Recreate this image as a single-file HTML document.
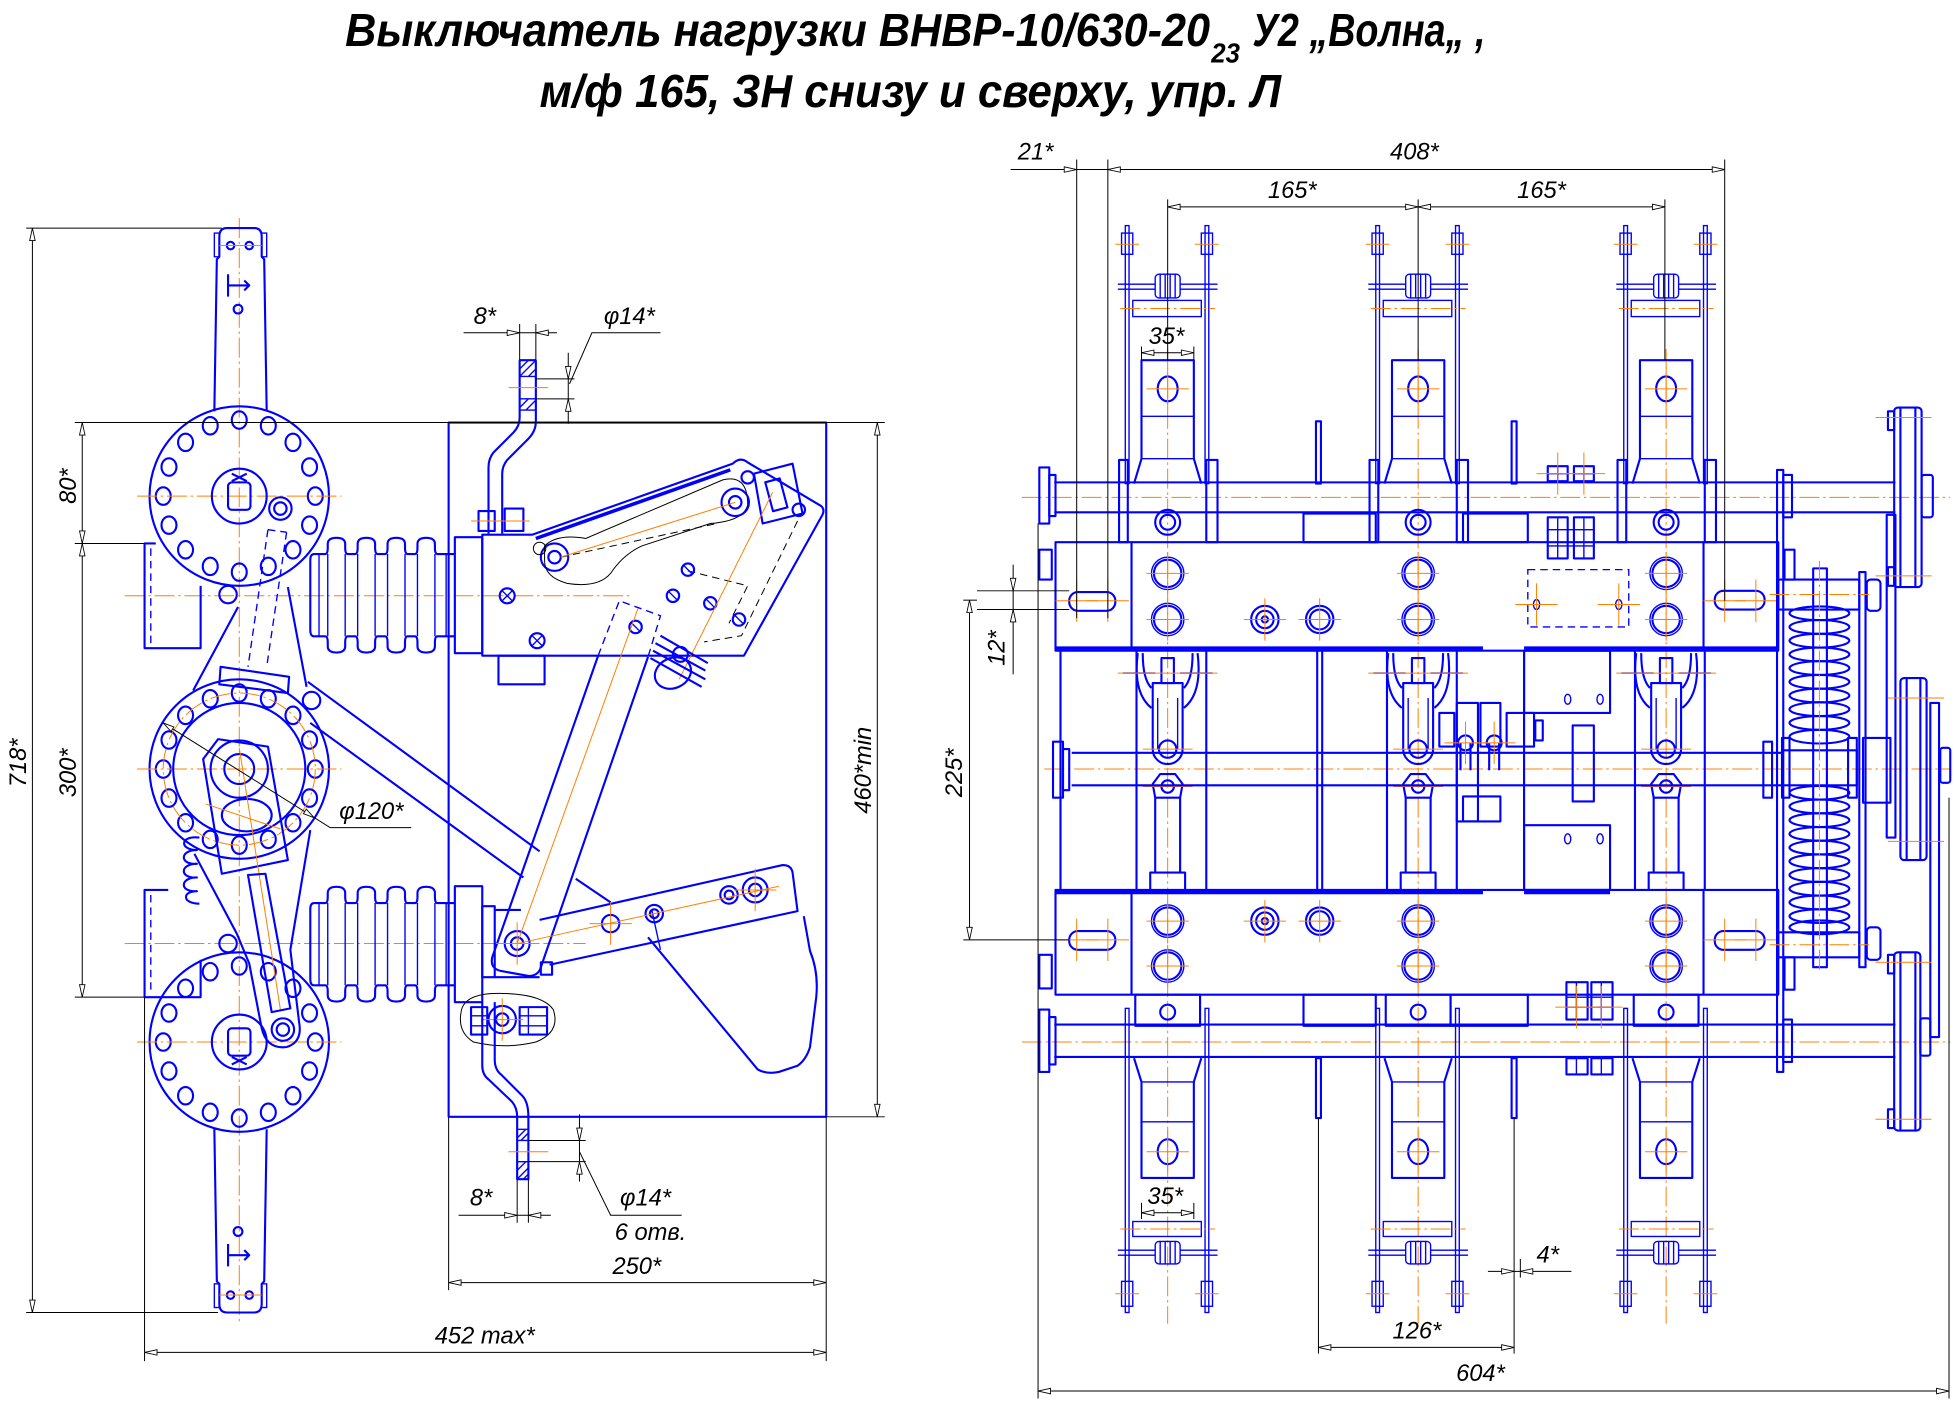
<!DOCTYPE html>
<html><head><meta charset="utf-8">
<style>
html,body{margin:0;padding:0;background:#fff;overflow:hidden}
svg{display:block}
.b{fill:none;stroke:#0000ff;stroke-width:1.7;stroke-linejoin:round}
.bt{fill:none;stroke:#0000ff;stroke-width:1.1}
.bk{fill:none;stroke:#0000ff;stroke-width:2.8}
.bd{fill:none;stroke:#0000ff;stroke-width:1.1;stroke-dasharray:6 4}
.o{fill:none;stroke:#ff8000;stroke-width:0.8;stroke-dasharray:16 3 2 3}
.os{fill:none;stroke:#ff8000;stroke-width:0.8}
.k{fill:none;stroke:#000;stroke-width:0.8}
.kd{fill:none;stroke:#000;stroke-width:0.8;stroke-dasharray:6 4}
.ka{fill:#fff;stroke:#000;stroke-width:0.7}
.t{font-family:"Liberation Sans",sans-serif;font-style:italic;font-size:19px;fill:#000}
.h{font-family:"Liberation Sans","Noto Sans CJK SC",sans-serif;font-style:italic;font-weight:bold;fill:#000}
</style></head><body>
<svg width="1954" height="1401" viewBox="0 0 1568 1124" preserveAspectRatio="none" xmlns="http://www.w3.org/2000/svg" xmlns:xlink="http://www.w3.org/1999/xlink">
<defs>
<g id="cr"><line class="os" x1="-17" y1="0" x2="17" y2="0"/><line class="os" x1="0" y1="-17" x2="0" y2="17"/></g>
<g id="h16" class="b">
<ellipse cx="0" cy="-61" rx="6" ry="7"/><ellipse cx="23.3" cy="-56.4" rx="6" ry="7"/><ellipse cx="43.1" cy="-43.1" rx="6" ry="7"/><ellipse cx="56.4" cy="-23.3" rx="6" ry="7"/>
<ellipse cx="61" cy="0" rx="6" ry="7"/><ellipse cx="56.4" cy="23.3" rx="6" ry="7"/><ellipse cx="43.1" cy="43.1" rx="6" ry="7"/><ellipse cx="23.3" cy="56.4" rx="6" ry="7"/>
<ellipse cx="0" cy="61" rx="6" ry="7"/><ellipse cx="-23.3" cy="56.4" rx="6" ry="7"/><ellipse cx="-43.1" cy="43.1" rx="6" ry="7"/><ellipse cx="-56.4" cy="23.3" rx="6" ry="7"/>
<ellipse cx="-61" cy="0" rx="6" ry="7"/><ellipse cx="-56.4" cy="-23.3" rx="6" ry="7"/><ellipse cx="-43.1" cy="-43.1" rx="6" ry="7"/><ellipse cx="-23.3" cy="-56.4" rx="6" ry="7"/>
</g>
<g id="disk">
<circle class="b" r="72"/>
<use xlink:href="#h16"/>
<line class="o" x1="-82" y1="0" x2="82" y2="0"/>
</g>
<g id="hub">
<circle class="b" r="22"/>
<rect class="b" x="-9" y="-11" width="18" height="22" rx="3"/>
<path class="b" d="M-6,-18 L6,-12 M6,-18 L-6,-12"/>
</g>
<g id="bel">
<path class="b" d="M252,-33 L261,-33 Q263,-33 263,-38 L263,-41 Q263,-46 270,-46 Q277,-46 277,-41 L277,-38 Q277,-33 279,-33 L285,-33 Q287,-33 287,-38 L287,-41 Q287,-46 294,-46 Q301,-46 301,-41 L301,-38 Q301,-33 303,-33 L309,-33 Q311,-33 311,-38 L311,-41 Q311,-46 318,-46 Q325,-46 325,-41 L325,-38 Q325,-33 327,-33 L333,-33 Q335,-33 335,-38 L335,-41 Q335,-46 342,-46 Q349,-46 349,-41 L349,-38 Q349,-33 351,-33 L365,-33"/>
<path class="b" d="M252,33 L261,33 Q263,33 263,38 L263,41 Q263,46 270,46 Q277,46 277,41 L277,38 Q277,33 279,33 L285,33 Q287,33 287,38 L287,41 Q287,46 294,46 Q301,46 301,41 L301,38 Q301,33 303,33 L309,33 Q311,33 311,38 L311,41 Q311,46 318,46 Q325,46 325,41 L325,38 Q325,33 327,33 L333,33 Q335,33 335,38 L335,41 Q335,46 342,46 Q349,46 349,41 L349,38 Q349,33 351,33 L365,33"/>
<path class="b" d="M252,-33 Q249,-33 249,-28 L249,28 Q249,33 252,33"/>
<path class="bt" d="M256,-33V33 M263,-33V33 M277,-33V33 M287,-33V33 M301,-33V33 M311,-33V33 M325,-33V33 M335,-33V33 M349,-33V33 M358,-33V33"/>
</g>
<g id="arm">
<path class="b" d="M172,330 L174,208 L176,206 L176,190 Q176,183 182,183 L204,183 Q210,183 210,190 L210,206 L212,208 L214,330"/>
<rect class="bt" x="172" y="187" width="4" height="19"/>
<rect class="bt" x="210" y="187" width="4" height="19"/>
<circle class="b" cx="185" cy="197" r="3"/><circle class="b" cx="200" cy="197" r="3"/>
<path class="b" d="M183,220 L183,238 M183,229 L200,229 M196,225 L200,229 L196,233"/>
<circle class="b" cx="191" cy="248" r="3.5"/>
<line class="os" x1="176" y1="197" x2="210" y2="197"/>
</g>
<g id="coil"><ellipse class="b" cx="0" cy="0" rx="24" ry="5.5"/></g>
<g id="ph">
<line class="o" x1="0" y1="280" x2="0" y2="1062"/>
<g class="bt">
<rect x="-34" y="181" width="3" height="207"/>
<rect x="30" y="181" width="3" height="207"/>
<rect x="-37" y="187" width="9" height="17"/>
<rect x="27" y="187" width="9" height="17"/>
<path d="M-40,228 L-10,228 M-40,232 L-10,232 M10,228 L40,228 M10,232 L40,232"/>
<rect x="-10" y="220" width="20" height="19" rx="3"/>
<path d="M-6,220 V239 M-2,220 V239 M2,220 V239 M6,220 V239"/>
<rect x="-28" y="241" width="55" height="13"/>
</g>
<line class="os" x1="-42" y1="196" x2="-23" y2="196"/><line class="os" x1="22" y1="196" x2="41" y2="196"/>
<line class="o" x1="-38" y1="247.5" x2="38" y2="247.5"/>
<g class="b">
<path d="M-27,388 L-21,368 L-21,289 L21,289 L21,368 L27,388"/>
<ellipse cx="0" cy="312" rx="8" ry="10"/>
<rect x="-39" y="369" width="7" height="66"/>
<rect x="31" y="369" width="9" height="66"/>
<circle cx="0" cy="419" r="10"/><circle cx="0" cy="419" r="6"/>
<circle cx="0" cy="460" r="11"/><circle cx="0" cy="497" r="11"/>
</g>
<g class="bt">
<line x1="-21" y1="334" x2="21" y2="334"/><line x1="-21" y1="368" x2="21" y2="368"/>
<circle cx="0" cy="460" r="13"/><circle cx="0" cy="497" r="13"/>
</g>
<use xlink:href="#cr" y="312"/><use xlink:href="#cr" y="460"/><use xlink:href="#cr" y="497"/>
<g class="b">
<line x1="-25" y1="522" x2="-25" y2="714"/>
<line x1="31" y1="522" x2="31" y2="714"/>
<path d="M-24,524 Q-28,556 -13,568 M24,524 Q28,556 13,568 M-20,524 Q-20,545 -13,552 M20,524 Q20,545 13,552"/>
<rect x="-5" y="528" width="10" height="20"/>
<path d="M-12,548 L-12,601 A12,12 0 0 0 12,601 L12,548 Z"/>
<circle cx="0" cy="601" r="7"/>
<path d="M-10,640 L-12,629 L-6,621 L6,621 L12,629 L10,640 Z"/>
<circle cx="0" cy="631" r="5"/>
<path d="M-10,640 V700 M10,640 V700 M-14,714 V700 H14 V714"/>
<circle cx="0" cy="739" r="11"/><circle cx="0" cy="775" r="11"/>
<rect x="-26" y="798" width="52" height="25"/>
<circle cx="0" cy="812" r="6"/>
<path d="M-27,849 L-21,868 L-21,945 L21,945 L21,868 L27,849"/>
<ellipse cx="0" cy="924" rx="8" ry="10"/>
</g>
<g class="bt">
<path d="M-8,560 V601 M8,560 V601"/>
<line x1="-36" y1="540" x2="-10" y2="540"/><line x1="10" y1="540" x2="36" y2="540"/>
<circle cx="0" cy="739" r="13"/><circle cx="0" cy="775" r="13"/>
<rect x="-34" y="809" width="3" height="244"/>
<rect x="30" y="809" width="3" height="244"/>
<line x1="-21" y1="868" x2="21" y2="868"/><line x1="-21" y1="900" x2="21" y2="900"/>
<rect x="-28" y="980" width="55" height="12"/>
<rect x="-10" y="996" width="20" height="18" rx="3"/>
<path d="M-40,1003 L-10,1003 M-40,1007 L-10,1007 M10,1003 L40,1003 M10,1007 L40,1007 M-6,996 V1014 M-2,996 V1014 M2,996 V1014 M6,996 V1014"/>
<rect x="-37" y="1028" width="9" height="20"/>
<rect x="27" y="1028" width="9" height="20"/>
</g>
<line class="os" x1="-40" y1="540" x2="40" y2="540"/>
<line class="os" x1="-20" y1="601" x2="20" y2="601"/>
<line class="os" x1="-20" y1="631" x2="20" y2="631"/>
<use xlink:href="#cr" y="739"/><use xlink:href="#cr" y="775"/><use xlink:href="#cr" y="924"/>
<line class="o" x1="-38" y1="986" x2="38" y2="986"/>
<line class="os" x1="-42" y1="1038" x2="-23" y2="1038"/><line class="os" x1="22" y1="1038" x2="41" y2="1038"/>
</g>
</defs>

<!-- ================= TITLE ================= -->
<text class="h" x="277" y="37" font-size="37" textLength="694" lengthAdjust="spacingAndGlyphs">Выключатель нагрузки ВНВР-10/630-20</text>
<text class="h" x="972" y="50" font-size="22" textLength="23" lengthAdjust="spacingAndGlyphs">23</text>
<text class="h" x="1005" y="37" font-size="37" textLength="187" lengthAdjust="spacingAndGlyphs">У2 „Волна„ ,</text>
<text class="h" x="433" y="86" font-size="37" textLength="595" lengthAdjust="spacingAndGlyphs">м/ф 165, ЗН снизу и сверху, упр. Л</text>

<!-- ================= LEFT VIEW ================= -->
<!-- centerlines -->
<line class="o" x1="192" y1="175" x2="192" y2="1062"/>
<line class="o" x1="100" y1="478" x2="505" y2="478"/>
<line class="o" x1="100" y1="757" x2="470" y2="757"/>

<!-- panel -->
<rect class="b" x="360" y="339" width="303" height="557"/>
<!-- housings -->
<path class="b" d="M125,436 L116,436 L116,520 L161,520 L161,470"/>
<path class="b" d="M161,770 L161,800 L116,800 L116,714 L135,714"/>
<line class="bd" x1="121" y1="440" x2="121" y2="518"/>
<line class="bd" x1="121" y1="718" x2="121" y2="798"/>

<!-- arms -->
<use xlink:href="#arm"/>
<use xlink:href="#arm" transform="translate(0,1236) scale(1,-1)"/>

<!-- disks -->
<use xlink:href="#disk" x="192" y="398"/>
<use xlink:href="#disk" x="192" y="617"/>
<use xlink:href="#disk" x="192" y="836"/>
<use xlink:href="#hub" x="192" y="398"/>
<use xlink:href="#hub" transform="translate(192,836) scale(1,-1)"/>
<circle class="b" cx="192" cy="617" r="53"/>
<circle class="o" cx="192" cy="617" r="61"/>
<!-- crank pins -->
<circle class="b" cx="225" cy="408" r="9"/><circle class="b" cx="225" cy="408" r="5"/>
<circle class="b" cx="227" cy="826" r="9"/><circle class="b" cx="227" cy="826" r="5"/>
<circle class="b" cx="183" cy="477" r="7"/>
<circle class="b" cx="183" cy="757" r="7"/>
<!-- dashed link -->
<path class="bd" d="M215,425 L199,535 M230,427 L214,535 M215,425 L230,427"/>
<!-- upper lever -->
<path class="b" d="M191,487 L155,554 M231,471 L246,551"/>
<polygon class="b" points="177,535 232,543 231,556 176,549"/>
<!-- middle lever plate -->
<polygon class="b" points="163,609 175,593 215,599 231,690 178,701"/>
<ellipse class="b" cx="198" cy="654" rx="20" ry="13"/>
<circle class="b" cx="192" cy="617" r="23"/>
<circle class="b" cx="192" cy="617" r="12" stroke-width="2.6"/>
<line class="os" x1="165" y1="645" x2="225" y2="665"/>
<line class="os" x1="192" y1="600" x2="225" y2="810"/>
<!-- lower link -->
<polygon class="b" points="199,702 213,701 233,809 218,812"/>
<!-- lower lever -->
<path class="b" d="M156,685 L190,749 L200,773 L210,825 Q214,842 230,840 Q243,836 240,820 L233,762 L249,666"/>
<!-- gear teeth -->
<path class="b" d="M160,672 c-16,-2 -16,10 -2,10 c-14,0 -14,12 0,11 c-14,0 -14,12 0,11 c-14,0 -14,12 0,11 c-12,0 -12,10 2,10"/>
<!-- diagonal bar -->
<path class="b" d="M247,547 L433,683 M249,580 L420,704 M462,705 L490,724"/>
<circle class="b" cx="250" cy="562" r="7"/>

<!-- bellows & flanges -->
<use xlink:href="#bel" y="477.5"/>
<use xlink:href="#bel" y="757.5"/>
<rect class="b" x="365" y="431" width="22" height="93"/>
<rect class="b" x="365" y="711" width="22" height="93"/>

<!-- top strap -->
<path class="b" d="M417,289 L430,289 M417,289 L417,335 Q417,342 412,347 L396,363 Q392,368 392,375 L392,428 M430,289 L430,338 Q430,346 424,352 L407,369 Q403,374 403,380 L403,428"/>
<path class="bt" d="M417,289 H430 V302 H417 Z M417,296 L424,289 M417,302 L430,289 M424,302 L430,296 M417,320 H430 V329 H417 Z M417,327 L424,320 M422,329 L430,321"/>
<line class="os" x1="408" y1="311" x2="440" y2="311"/>
<rect class="b" x="384" y="410" width="13" height="16"/>
<rect class="b" x="405" y="408" width="15" height="18"/>
<line class="os" x1="378" y1="418" x2="425" y2="418"/>

<!-- top block + upper arm -->
<path class="b" d="M387,429 L427,429 L588,372 Q594,366 600,371 L659,406 Q662,409 660,413 L597,526 L387,526 Z"/>
<line class="bk" x1="430" y1="432" x2="586" y2="377"/>
<rect class="b" x="400" y="526" width="37" height="23"/>
<circle class="b" cx="407" cy="478" r="6"/><path class="bt" d="M403,474 L411,482 M411,474 L403,482"/>
<circle class="b" cx="431" cy="514" r="6"/><path class="bt" d="M427,510 L435,518 M435,510 L427,518"/>
<circle class="b" cx="445" cy="447" r="11"/><circle class="b" cx="445" cy="447" r="5"/>
<circle class="k" cx="433" cy="440" r="5"/>
<path class="k" d="M437,438 Q447,428 470,432 L580,385 Q600,380 600,405 Q597,418 570,420 L515,438 Q500,445 490,460 Q480,472 455,468 Q437,463 437,450 Z"/>
<path class="kd" d="M450,447 L575,420 M640,418 L595,510 L565,515 M552,458 L600,470 L585,500"/>
<circle class="b" cx="590" cy="403" r="11"/><circle class="b" cx="590" cy="403" r="5"/>
<polygon class="b" points="605,380 636,372 644,412 612,420"/>
<rect class="b" x="617" y="385" width="12" height="24" transform="rotate(-15 623 397)"/>
<circle class="b" cx="600" cy="383" r="5"/><circle class="b" cx="641" cy="409" r="5"/>
<g class="b">
<circle cx="552" cy="457" r="5"/><circle cx="540" cy="478" r="5"/><circle cx="570" cy="484" r="5"/><circle cx="510" cy="503" r="5"/><circle cx="593" cy="497" r="5"/>
</g>
<path class="bt" d="M549,454 L555,460 M537,475 L543,481 M567,481 L573,487 M507,500 L513,506 M590,494 L596,500"/>
<line class="os" x1="450" y1="447" x2="590" y2="403"/>
<line class="os" x1="545" y1="545" x2="620" y2="395"/>
<!-- spring device on arm -->
<ellipse class="b" cx="540" cy="540" rx="15" ry="12" transform="rotate(-25 540 540)"/>
<circle class="b" cx="546" cy="525" r="6"/>
<path class="b" d="M524,522 L566,545 M522,528 L563,551 M526,516 L566,538 M530,510 L568,532"/>

<!-- long bar -->
<path class="b" d="M480,526 L395,768 Q393,777 402,779 L424,783 Q432,783 434,776 L520,527"/>
<path class="bd" d="M480,526 L497,482 L530,494 L520,527"/>
<circle class="b" cx="415" cy="757" r="10"/><circle class="b" cx="415" cy="757" r="5" stroke-width="3"/>
<use xlink:href="#cr" x="415" y="757"/>
<line class="os" x1="415" y1="757" x2="512" y2="488"/>

<!-- lower knife -->
<path class="b" d="M433,738 L628,694 Q635,694 636,700 L640,731 L441,774"/>
<path class="b" d="M520,752 L608,858 Q615,862 625,860 L640,855 Q647,850 650,840 L655,800 Q657,780 650,763 L645,735"/>
<line class="bt" x1="523" y1="730" x2="530" y2="762"/>
<circle class="b" cx="490" cy="741" r="7"/>
<circle class="b" cx="525" cy="733" r="7"/><circle class="b" cx="525" cy="733" r="3.5" stroke-width="3"/>
<circle class="b" cx="585" cy="718" r="7"/><circle class="b" cx="585" cy="718" r="3.5" stroke-width="3"/>
<circle class="b" cx="606" cy="714" r="10"/><circle class="b" cx="606" cy="714" r="5"/>
<line class="os" x1="415" y1="757" x2="625" y2="711"/>
<use xlink:href="#cr" x="490" y="741"/><use xlink:href="#cr" x="606" y="714"/>
<rect class="b" x="434" y="772" width="9" height="10"/>
<!-- lower block -->
<rect class="b" x="387" y="727" width="10" height="57"/>
<path class="b" d="M397,730 L418,730 M397,784 L433,784"/>
<!-- bottom pivot -->
<path class="k" d="M370,812 Q372,797 400,797 Q435,797 444,810 Q450,828 430,836 Q405,842 380,836 Q367,828 370,812 Z"/>
<circle class="b" cx="403" cy="818" r="11"/><circle class="b" cx="403" cy="818" r="5" stroke-width="3"/>
<rect class="b" x="378" y="808" width="13" height="22"/>
<rect class="b" x="417" y="808" width="22" height="22"/>
<path class="bt" d="M378,815 H391 M378,823 H391 M417,815 H439 M417,823 H439 M424,808 V830"/>
<use xlink:href="#cr" x="403" y="818"/>
<!-- bottom strap -->
<path class="b" d="M387,804 L387,855 Q387,862 392,866 L411,884 Q415,889 415,896 L415,946 L424,946 L424,896 Q424,884 419,879 L402,862 Q397,858 397,850 L397,804"/>
<path class="bt" d="M415,906 H424 V915 H415 Z M415,913 L422,906 M418,915 L424,909 M415,932 H424 V946 H415 Z M415,939 L422,932 M415,946 L424,937 M420,946 L424,942"/>
<line class="os" x1="408" y1="924" x2="440" y2="924"/>

<!-- left dims -->
<g class="k">
<line x1="21" y1="183" x2="178" y2="183"/>
<line x1="21" y1="1053" x2="175" y2="1053"/>
<line x1="26" y1="183" x2="26" y2="1053"/>
<line x1="60" y1="339" x2="710" y2="339"/>
<line x1="60" y1="436" x2="116" y2="436"/>
<line x1="60" y1="800" x2="116" y2="800"/>
<line x1="66" y1="339" x2="66" y2="800"/>
<line x1="663" y1="896" x2="710" y2="896"/>
<line x1="704" y1="339" x2="704" y2="896"/>
<line x1="116" y1="800" x2="116" y2="1092"/>
<line x1="663" y1="896" x2="663" y2="1092"/>
<line x1="116" y1="1085" x2="663" y2="1085"/>
<line x1="360" y1="896" x2="360" y2="1035"/>
<line x1="360" y1="1029" x2="663" y2="1029"/>
<!-- top 8 / d14 -->
<line x1="417" y1="260" x2="417" y2="289"/>
<line x1="430" y1="260" x2="430" y2="289"/>
<line x1="372" y1="267" x2="447" y2="267"/>
<line x1="430" y1="304" x2="461" y2="304"/>
<line x1="430" y1="320" x2="461" y2="320"/>
<line x1="456" y1="283" x2="456" y2="340"/>
<path d="M457,308 L475,267 L530,267"/>
<!-- bottom 8 / d14 -->
<line x1="415" y1="946" x2="415" y2="981"/>
<line x1="424" y1="946" x2="424" y2="981"/>
<line x1="368" y1="975" x2="442" y2="975"/>
<line x1="424" y1="915" x2="470" y2="915"/>
<line x1="424" y1="932" x2="470" y2="932"/>
<line x1="465" y1="894" x2="465" y2="948"/>
<path d="M465,924 L490,975 L547,975"/>
<!-- d120 -->
<path d="M131,580 L265,664 L330,664"/>
</g>
<g class="ka">
<path d="M26,183 l-2.2,10 h4.4 z"/><path d="M26,1053 l-2.2,-10 h4.4 z"/>
<path d="M66,339 l-2.2,10 h4.4 z"/><path d="M66,436 l-2.2,-10 h4.4 z"/>
<path d="M66,436 l-2.2,10 h4.4 z"/><path d="M66,800 l-2.2,-10 h4.4 z"/>
<path d="M704,339 l-2.2,10 h4.4 z"/><path d="M704,896 l-2.2,-10 h4.4 z"/>
<path d="M116,1085 l10,-2.2 v4.4 z"/><path d="M663,1085 l-10,-2.2 v4.4 z"/>
<path d="M360,1029 l10,-2.2 v4.4 z"/><path d="M663,1029 l-10,-2.2 v4.4 z"/>
<path d="M417,267 l-10,-2.2 v4.4 z"/><path d="M430,267 l10,-2.2 v4.4 z"/>
<path d="M456,304 l-2.2,-10 h4.4 z"/><path d="M456,320 l-2.2,10 h4.4 z"/>
<path d="M415,975 l-10,-2.2 v4.4 z"/><path d="M424,975 l10,-2.2 v4.4 z"/>
<path d="M465,915 l-2.2,-10 h4.4 z"/><path d="M465,932 l-2.2,10 h4.4 z"/>
<path d="M131,580 l8.5,3.2 l-2.3,3.7 z"/><path d="M252,656 l-8.5,-3.2 l2.3,-3.7 z"/>
</g>
<text class="t" transform="translate(21,612) rotate(-90)" text-anchor="middle">718*</text>
<text class="t" transform="translate(61,390) rotate(-90)" text-anchor="middle">80*</text>
<text class="t" transform="translate(61,620) rotate(-90)" text-anchor="middle">300*</text>
<text class="t" transform="translate(699,618) rotate(-90)" text-anchor="middle">460*min</text>
<text class="t" x="389" y="1078" text-anchor="middle">452 max*</text>
<text class="t" x="511" y="1022" text-anchor="middle">250*</text>
<text class="t" x="389" y="260" text-anchor="middle">8*</text>
<text class="t" x="505" y="260" text-anchor="middle">φ14*</text>
<text class="t" x="386" y="967" text-anchor="middle">8*</text>
<text class="t" x="518" y="967" text-anchor="middle">φ14*</text>
<text class="t" x="522" y="995" text-anchor="middle">6 отв.</text>
<text class="t" x="298" y="657" text-anchor="middle">φ120*</text>

<!-- ================= RIGHT VIEW ================= -->
<!-- shaft centerlines -->
<line class="o" x1="820" y1="399" x2="1565" y2="399"/>
<line class="o" x1="838" y1="617" x2="1565" y2="617"/>
<line class="o" x1="820" y1="836" x2="1565" y2="836"/>

<use xlink:href="#ph" x="937"/>
<use xlink:href="#ph" x="1138"/>
<use xlink:href="#ph" x="1337"/>

<g class="b">
<!-- plates -->
<rect x="847" y="435" width="580" height="87"/>
<line x1="908" y1="435" x2="908" y2="522"/>
<line x1="1367" y1="435" x2="1367" y2="522"/>
<rect x="847" y="714" width="580" height="84"/>
<line x1="908" y1="714" x2="908" y2="798"/>
<line x1="1367" y1="714" x2="1367" y2="798"/>
<line x1="851" y1="522" x2="851" y2="714"/>
<!-- slots -->
<rect x="858" y="475" width="37" height="15" rx="7"/>
<rect x="1376" y="474" width="40" height="15" rx="7"/>
<rect x="858" y="747" width="37" height="15" rx="7"/>
<rect x="1376" y="747" width="40" height="15" rx="7"/>
<!-- shafts -->
<path d="M846,387 H1521 M846,411 H1521"/>
<path d="M860,604 H1430 M860,630 H1430"/>
<path d="M846,822 H1521 M846,848 H1521"/>
<!-- shaft end flanges left -->
<rect x="834" y="375" width="8" height="45"/><rect x="842" y="381" width="5" height="33"/>
<rect x="845" y="595" width="8" height="45"/><rect x="853" y="601" width="5" height="33"/>
<rect x="834" y="810" width="8" height="50"/><rect x="842" y="816" width="5" height="38"/>
<rect x="834" y="441" width="10" height="24"/>
<rect x="834" y="766" width="10" height="27"/>
<!-- extra holes on plates -->
<circle cx="1015" cy="497" r="11"/><circle cx="1015" cy="497" r="7"/><circle cx="1015" cy="497" r="2.5"/>
<circle cx="1059" cy="497" r="11"/><circle cx="1059" cy="497" r="8"/>
<circle cx="1015" cy="739" r="11"/><circle cx="1015" cy="739" r="7"/><circle cx="1015" cy="739" r="2.5"/>
<circle cx="1059" cy="739" r="11"/><circle cx="1059" cy="739" r="8"/>
<!-- ground contacts -->
<rect x="1056" y="338" width="4" height="50"/>
<rect x="1213" y="338" width="4" height="50"/>
<rect x="1056" y="849" width="4" height="48"/>
<rect x="1213" y="849" width="4" height="48"/>
<rect x="1046" y="412" width="58" height="23"/>
<rect x="1174" y="412" width="52" height="23"/>
<rect x="1046" y="798" width="58" height="25"/>
<rect x="1164" y="798" width="62" height="25"/>
<!-- bolt clusters -->
<rect x="1242" y="374" width="16" height="12"/><rect x="1263" y="374" width="16" height="12"/>
<rect x="1242" y="415" width="16" height="33"/><rect x="1263" y="415" width="16" height="33"/>
<rect x="1257" y="788" width="17" height="30"/><rect x="1277" y="788" width="17" height="30"/>
<rect x="1257" y="849" width="17" height="13"/><rect x="1277" y="849" width="17" height="13"/>
<!-- middle section lines -->
<line x1="1057" y1="522" x2="1057" y2="714"/>
<line x1="1061" y1="522" x2="1061" y2="714"/>
<line x1="1223" y1="522" x2="1223" y2="714"/>
<rect x="1223" y="522" width="69" height="50"/>
<rect x="1223" y="662" width="69" height="52"/>
<rect x="1262" y="582" width="17" height="61"/>
<!-- crank cluster -->
<rect x="1155" y="572" width="12" height="27"/>
<rect x="1169" y="564" width="17" height="95"/>
<rect x="1188" y="564" width="16" height="35"/>
<rect x="1209" y="572" width="22" height="27"/>
<rect x="1174" y="639" width="30" height="20"/>
<rect x="1232" y="578" width="6" height="16"/>
<circle cx="1176" cy="596" r="6"/><circle cx="1199" cy="596" r="6"/>
<path d="M1172,596 V618 M1180,596 V618 M1195,596 V618 M1203,596 V618"/>
</g>
<line class="bk" x1="847" y1="520" x2="1190" y2="520"/>
<line class="bk" x1="1223" y1="520" x2="1427" y2="520"/>
<line class="bk" x1="847" y1="716" x2="1190" y2="716"/>
<line class="bk" x1="1223" y1="716" x2="1292" y2="716"/>
<g class="bt">
<ellipse cx="1258" cy="561" rx="2.5" ry="4"/><ellipse cx="1284" cy="561" rx="2.5" ry="4"/>
<ellipse cx="1258" cy="673" rx="2.5" ry="4"/><ellipse cx="1284" cy="673" rx="2.5" ry="4"/>
<ellipse cx="1233" cy="485" rx="2.5" ry="4"/><ellipse cx="1299" cy="485" rx="2.5" ry="4"/>
<path d="M1242,380 H1258 M1263,380 H1279 M1250,374 V386 M1271,374 V386 M1242,425 H1279 M1242,438 H1279 M1250,415 V448 M1271,415 V448"/>
<path d="M1257,800 H1294 M1257,808 H1294 M1265,788 V818 M1285,788 V818 M1265,849 V862 M1285,849 V862"/>
</g>
<rect class="bd" x="1226" y="457" width="81" height="46"/>
<use xlink:href="#cr" x="1015" y="497"/><use xlink:href="#cr" x="1059" y="497"/>
<use xlink:href="#cr" x="1015" y="739"/><use xlink:href="#cr" x="1059" y="739"/>
<use xlink:href="#cr" x="1233" y="485"/><use xlink:href="#cr" x="1299" y="485"/>
<use xlink:href="#cr" x="864" y="482"/><use xlink:href="#cr" x="889" y="482"/>
<use xlink:href="#cr" x="1384" y="482"/><use xlink:href="#cr" x="1409" y="482"/>
<use xlink:href="#cr" x="864" y="754"/><use xlink:href="#cr" x="889" y="754"/>
<use xlink:href="#cr" x="1384" y="754"/><use xlink:href="#cr" x="1409" y="754"/>
<use xlink:href="#cr" x="1176" y="596"/><use xlink:href="#cr" x="1199" y="596"/>
<use xlink:href="#cr" x="1250" y="380"/><use xlink:href="#cr" x="1271" y="380"/>
<use xlink:href="#cr" x="1265" y="808"/><use xlink:href="#cr" x="1285" y="808"/>

<!-- spring assembly & right side -->
<g class="b">
<rect x="1426" y="377" width="5" height="483"/>
<rect x="1431" y="381" width="7" height="34"/>
<rect x="1431" y="818" width="7" height="34"/>
<rect x="1432" y="441" width="8" height="24"/>
<rect x="1432" y="768" width="8" height="26"/>
<rect x="1492" y="459" width="5" height="317"/>
<rect x="1427" y="465" width="65" height="24"/>
<rect x="1427" y="748" width="65" height="20"/>
<rect x="1498" y="465" width="11" height="25" rx="3"/>
<rect x="1498" y="744" width="11" height="26" rx="3"/>
<rect x="1455" y="456" width="11" height="320"/>
<rect x="1430" y="602" width="60" height="28"/>
<rect x="1430" y="592" width="6" height="48"/>
<rect x="1483" y="592" width="7" height="48"/>
<rect x="1415" y="595" width="7" height="45"/>
<rect x="1495" y="592" width="22" height="52"/>
<!-- far right disks -->
<rect x="1520" y="327" width="22" height="144" rx="3"/>
<line x1="1525" y1="327" x2="1525" y2="471"/><line x1="1537" y1="327" x2="1537" y2="471"/>
<rect x="1515" y="330" width="5" height="15"/><rect x="1515" y="455" width="5" height="15"/>
<rect x="1542" y="381" width="9" height="34" rx="2"/>
<rect x="1514" y="413" width="7" height="259"/>
<rect x="1525" y="544" width="21" height="146" rx="3"/>
<line x1="1530" y1="544" x2="1530" y2="690"/><line x1="1541" y1="544" x2="1541" y2="690"/>
<rect x="1549" y="564" width="7" height="268"/>
<rect x="1557" y="600" width="8" height="28" rx="2"/>
<rect x="1520" y="764" width="21" height="143" rx="3"/>
<line x1="1525" y1="764" x2="1525" y2="907"/><line x1="1537" y1="764" x2="1537" y2="907"/>
<rect x="1515" y="766" width="5" height="15"/><rect x="1515" y="890" width="5" height="15"/>
<rect x="1541" y="817" width="8" height="30" rx="2"/>
</g>
<g>
<use xlink:href="#coil" x="1460" y="492"/><use xlink:href="#coil" x="1460" y="503"/><use xlink:href="#coil" x="1460" y="514"/><use xlink:href="#coil" x="1460" y="525"/><use xlink:href="#coil" x="1460" y="536"/><use xlink:href="#coil" x="1460" y="547"/><use xlink:href="#coil" x="1460" y="558"/><use xlink:href="#coil" x="1460" y="569"/><use xlink:href="#coil" x="1460" y="580"/><use xlink:href="#coil" x="1460" y="591"/>
<use xlink:href="#coil" x="1460" y="636"/><use xlink:href="#coil" x="1460" y="647"/><use xlink:href="#coil" x="1460" y="658"/><use xlink:href="#coil" x="1460" y="669"/><use xlink:href="#coil" x="1460" y="680"/><use xlink:href="#coil" x="1460" y="691"/><use xlink:href="#coil" x="1460" y="702"/><use xlink:href="#coil" x="1460" y="713"/><use xlink:href="#coil" x="1460" y="724"/><use xlink:href="#coil" x="1460" y="735"/><use xlink:href="#coil" x="1460" y="744"/>
</g>
<line class="o" x1="1460" y1="450" x2="1460" y2="780"/>
<line class="o" x1="1420" y1="477" x2="1500" y2="477"/>
<line class="o" x1="1420" y1="758" x2="1500" y2="758"/>
<line class="os" x1="1505" y1="335" x2="1550" y2="335"/><line class="os" x1="1505" y1="462" x2="1550" y2="462"/>
<line class="os" x1="1515" y1="560" x2="1560" y2="560"/><line class="os" x1="1515" y1="675" x2="1560" y2="675"/>
<line class="os" x1="1505" y1="772" x2="1550" y2="772"/><line class="os" x1="1505" y1="898" x2="1550" y2="898"/>

<!-- right dims -->
<g class="k">
<line x1="811" y1="136" x2="1384" y2="136"/>
<line x1="864" y1="128" x2="864" y2="496"/>
<line x1="889" y1="128" x2="889" y2="496"/>
<line x1="1384" y1="128" x2="1384" y2="482"/>
<line x1="937" y1="160" x2="937" y2="289"/>
<line x1="1138" y1="160" x2="1138" y2="289"/>
<line x1="1336" y1="160" x2="1336" y2="289"/>
<line x1="937" y1="166" x2="1336" y2="166"/>
<line x1="916" y1="278" x2="916" y2="289"/>
<line x1="958" y1="278" x2="958" y2="289"/>
<line x1="916" y1="283" x2="958" y2="283"/>
<line x1="784" y1="474" x2="858" y2="474"/>
<line x1="784" y1="489" x2="858" y2="489"/>
<line x1="813" y1="453" x2="813" y2="541"/>
<line x1="773" y1="481.5" x2="784" y2="481.5"/>
<line x1="773" y1="754" x2="858" y2="754"/>
<line x1="778" y1="481.5" x2="778" y2="754"/>
<line x1="833" y1="420" x2="833" y2="1122"/>
<line x1="1564" y1="640" x2="1564" y2="1122"/>
<line x1="833" y1="1116" x2="1564" y2="1116"/>
<line x1="1058" y1="897" x2="1058" y2="1086"/>
<line x1="1215" y1="897" x2="1215" y2="1086"/>
<line x1="1058" y1="1081" x2="1215" y2="1081"/>
<line x1="1220" y1="1010" x2="1220" y2="1025"/>
<line x1="1194" y1="1020" x2="1261" y2="1020"/>
<line x1="916" y1="965" x2="916" y2="978"/>
<line x1="958" y1="965" x2="958" y2="978"/>
<line x1="916" y1="973" x2="958" y2="973"/>
</g>
<g class="ka">
<path d="M864,136 l-10,-2.2 v4.4 z"/><path d="M889,136 l10,-2.2 v4.4 z"/><path d="M1384,136 l-10,-2.2 v4.4 z"/>
<path d="M937,166 l10,-2.2 v4.4 z"/><path d="M1138,166 l-10,-2.2 v4.4 z"/><path d="M1138,166 l10,-2.2 v4.4 z"/><path d="M1336,166 l-10,-2.2 v4.4 z"/>
<path d="M916,283 l10,-2.2 v4.4 z"/><path d="M958,283 l-10,-2.2 v4.4 z"/>
<path d="M813,474 l-2.2,-10 h4.4 z"/><path d="M813,489 l-2.2,10 h4.4 z"/>
<path d="M778,481.5 l-2.2,10 h4.4 z"/><path d="M778,754 l-2.2,-10 h4.4 z"/>
<path d="M833,1116 l10,-2.2 v4.4 z"/><path d="M1564,1116 l-10,-2.2 v4.4 z"/>
<path d="M1058,1081 l10,-2.2 v4.4 z"/><path d="M1215,1081 l-10,-2.2 v4.4 z"/>
<path d="M1215,1020 l-10,-2.2 v4.4 z"/><path d="M1220,1020 l10,-2.2 v4.4 z"/>
<path d="M916,973 l10,-2.2 v4.4 z"/><path d="M958,973 l-10,-2.2 v4.4 z"/>
</g>
<text class="t" x="831" y="128" text-anchor="middle">21*</text>
<text class="t" x="1135" y="128" text-anchor="middle">408*</text>
<text class="t" x="1037" y="159" text-anchor="middle">165*</text>
<text class="t" x="1237" y="159" text-anchor="middle">165*</text>
<text class="t" x="936" y="276" text-anchor="middle">35*</text>
<text class="t" transform="translate(806,520) rotate(-90)" text-anchor="middle">12*</text>
<text class="t" transform="translate(772,620) rotate(-90)" text-anchor="middle">225*</text>
<text class="t" x="935" y="966" text-anchor="middle">35*</text>
<text class="t" x="1242" y="1013" text-anchor="middle">4*</text>
<text class="t" x="1137" y="1074" text-anchor="middle">126*</text>
<text class="t" x="1188" y="1108" text-anchor="middle">604*</text>
</svg>
</body></html>
